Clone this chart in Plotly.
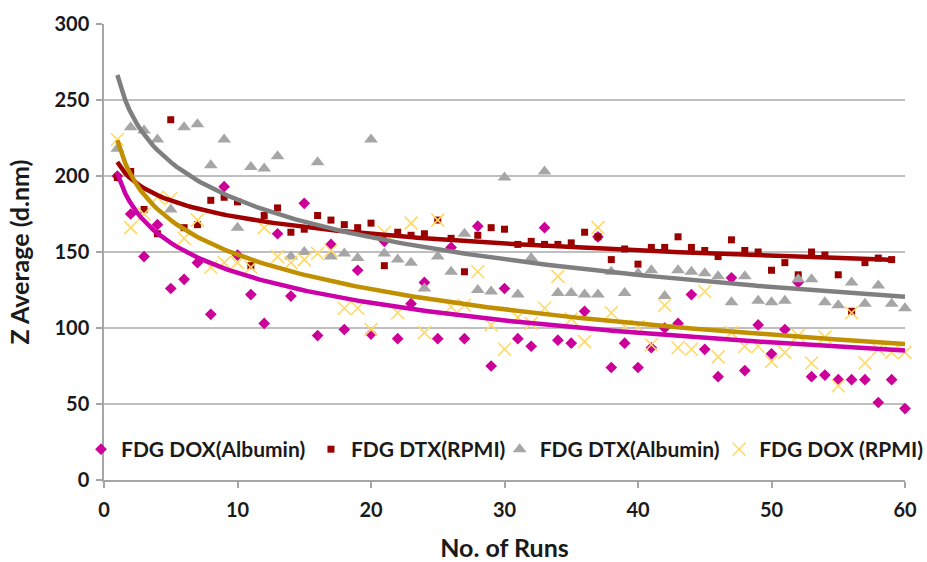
import numpy as np
import plotly.graph_objects as go

# Z-average particle size (d.nm) per run
runs_60 = list(range(1, 61))
runs_59 = list(range(1, 60))

dox_albumin = [200, 175, 147, 168, 126, 132, 143, 109, 193, 148,
               122, 103, 162, 121, 182, 95, 155, 99, 138, 96,
               157, 93, 116, 130, 93, 153, 93, 167, 75, 126,
               93, 88, 166, 92, 90, 111, 160, 74, 90, 74,
               87, 100, 103, 122, 86, 68, 133, 72, 102, 83,
               99, 130, 68, 69, 66, 66, 66, 51, 66, 47]

dtx_rpmi = [199, 203, 178, 162, 237, 166, 168, 184, 186, 183,
            141, 174, 179, 163, 165, 174, 171, 168, 166, 169,
            141, 163, 161, 162, 171, 159, 137, 161, 166, 165,
            155, 157, 155, 155, 156, 163, 160, 145, 152, 142,
            153, 153, 160, 153, 151, 147, 158, 151, 150, 138,
            143, 135, 150, 148, 135, 111, 143, 146, 145]

dtx_albumin = [218, 232, 230, 224, 178, 232, 234, 207, 224, 166,
               206, 205, 213, 147, 150, 209, 147, 149, 146, 224,
               149, 145, 143, 126, 147, 137, 162, 125, 124, 199,
               122, 146, 203, 123, 123, 122, 122, 137, 123, 136,
               138, 121, 138, 137, 136, 134, 117, 134, 118, 117,
               118, 132, 132, 117, 115, 130, 116, 128, 116, 113]

dox_rpmi = [224, 166, 175, 186, 185, 159, 171, 140, 143, 143,
            140, 166, 147, 143, 145, 149, 151, 113, 113, 99,
            163, 110, 169, 97, 171, 114, 115, 137, 102, 86,
            107, 103, 113, 134, 106, 91, 166, 110, 101, 101,
            89, 115, 87, 86, 124, 81, 97, 88, 88, 78,
            84, 95, 77, 94, 62, 110, 77, 86, 84, 84]

series = [
    dict(name="FDG DOX(Albumin)", x=runs_60, y=dox_albumin,
         marker=dict(symbol="diamond", size=9, color="#CC0099"),
         trend="#CC00A8", legend="legend", lx=-0.0412),
    dict(name="FDG DTX(RPMI)", x=runs_59, y=dtx_rpmi,
         marker=dict(symbol="square", size=7, color="#990000"),
         trend="#A00000", legend="legend2", lx=0.2459),
    dict(name="FDG DTX(Albumin)", x=runs_60, y=dtx_albumin,
         marker=dict(symbol="triangle-up", size=12, color="#A6A6A6"),
         trend="#7F7F7F", legend="legend3", lx=0.4815),
    dict(name="FDG DOX (RPMI)", x=runs_60, y=dox_rpmi,
         marker=dict(symbol="x-thin-open", size=13, color="#FFD966",
                     line=dict(width=1.6, color="#FFD966")),
         trend="#C09000", legend="legend4", lx=0.7555),
]

FONT = "Lato"
fig = go.Figure()

for s in series:
    fig.add_trace(go.Scatter(x=s["x"], y=s["y"], mode="markers", name=s["name"],
                             marker=s["marker"], legend=s["legend"], cliponaxis=False))

# Logarithmic trendlines y = a + b*ln(x), fitted to each series
for s in series:
    x = np.asarray(s["x"], dtype=float)
    y = np.asarray(s["y"], dtype=float)
    b, a = np.polyfit(np.log(x), y, 1)
    xs = np.linspace(x.min(), x.max(), 200)
    fig.add_trace(go.Scatter(x=xs, y=a + b * np.log(xs), mode="lines",
                             line=dict(color=s["trend"], width=4.5),
                             showlegend=False, hoverinfo="skip"))

axis_common = dict(
    showline=True, linecolor="#A6A6A6", linewidth=1.5,
    ticks="outside", tickcolor="#A6A6A6", ticklen=6, tickwidth=1.5,
    tickfont=dict(family=FONT, size=20, color="#1a1a1a", weight="bold"),
    zeroline=False,
)

# one entry per legend box, laid out in a row resting on the x axis;
# the transparent border lifts the row above the axis line
legend_style = dict(orientation="h", y=-0.0001, xanchor="left", yanchor="bottom",
                    bgcolor="rgba(0,0,0,0)", bordercolor="rgba(0,0,0,0)",
                    borderwidth=10, itemwidth=30,
                    font=dict(family=FONT, size=21, color="#1a1a1a", weight="bold"))
legends = {s["legend"]: dict(x=s["lx"], **legend_style) for s in series}

fig.update_layout(
    width=927, height=562,
    margin=dict(l=104, r=22, t=24, b=82, autoexpand=False),
    paper_bgcolor="white", plot_bgcolor="white",
    font=dict(family=FONT, color="#1a1a1a"),
    xaxis=dict(range=[0, 60], dtick=10, showgrid=False, ticklabelstandoff=5,
               title=dict(text="<b>No. of Runs</b>", font=dict(family=FONT, size=25),
                          standoff=24),
               **axis_common),
    yaxis=dict(range=[0, 300], dtick=50, showgrid=True, gridcolor="#BFBFBF",
               gridwidth=1.5, ticklabelstandoff=3,
               title=dict(text="<b>Z Average (d.nm)</b>", font=dict(family=FONT, size=25),
                          standoff=18),
               **axis_common),
    showlegend=True,
    **legends,
)

fig.write_html("out.html")
